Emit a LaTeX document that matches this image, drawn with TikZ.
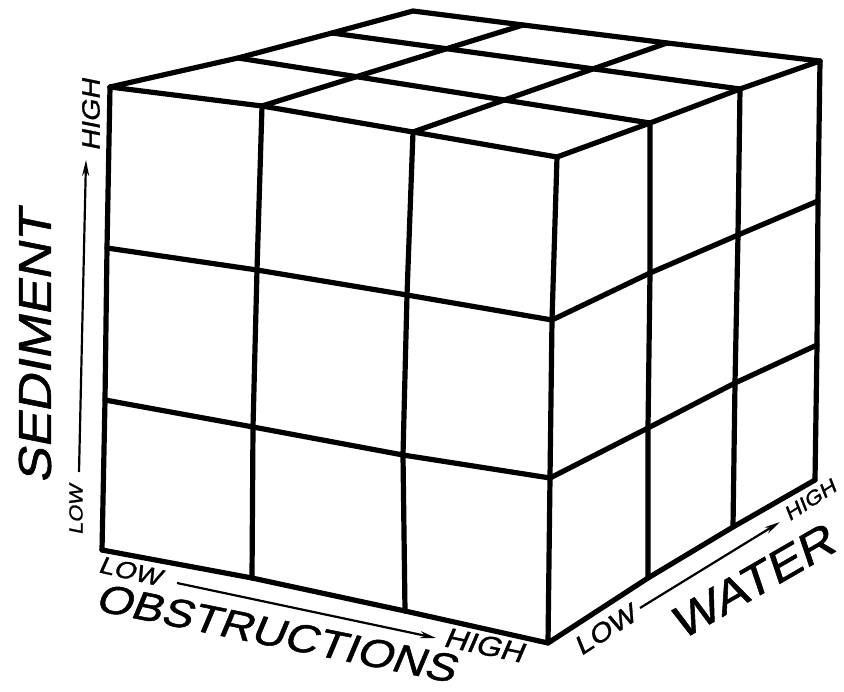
\documentclass[tikz,border=0pt]{standalone}
\usepackage{fontspec}
\usetikzlibrary{arrows.meta}
\newfontfamily\handfont[FakeSlant=0.2,FakeStretch=1.15,FakeBold=1.2]{Liberation Sans}
\begin{document}
\begin{tikzpicture}[x=1pt,y=-1pt,line width=5.2pt,line join=round,line cap=round,
  axis/.style={line width=2.2pt,line cap=butt,-{Stealth[length=16pt,width=7pt]}},
  every node/.style={inner sep=0pt,font=\handfont}]
\useasboundingbox (0,0) rectangle (844,692);
\coordinate (f00) at (110,87);
\coordinate (f01) at (262,106);
\coordinate (f02) at (413,132);
\coordinate (f03) at (557,157);
\coordinate (f10) at (107,248);
\coordinate (f11) at (257,270);
\coordinate (f12) at (407,295);
\coordinate (f13) at (552,320);
\coordinate (f20) at (105,400);
\coordinate (f21) at (253,427);
\coordinate (f22) at (403,455);
\coordinate (f23) at (550,478);
\coordinate (f30) at (102,550);
\coordinate (f31) at (252,578);
\coordinate (f32) at (405,611);
\coordinate (f33) at (548,643);
\coordinate (r01) at (650,123);
\coordinate (r02) at (740,89);
\coordinate (r03) at (820,61);
\coordinate (r11) at (650,273);
\coordinate (r12) at (738,235);
\coordinate (r13) at (818,201);
\coordinate (r21) at (648,428);
\coordinate (r22) at (735,383);
\coordinate (r23) at (817,345);
\coordinate (r31) at (648,578);
\coordinate (r32) at (733,527);
\coordinate (r33) at (815,480);
\coordinate (t1) at (238,58);
\coordinate (t2) at (332,33);
\coordinate (back) at (413,11);
\coordinate (b1) at (523,25);
\coordinate (b2) at (667,43);
\draw (f00) -- (f10) -- (f20) -- (f30);
\draw (f01) -- (f11) -- (f21) -- (f31);
\draw (f02) -- (f12) -- (f22) -- (f32);
\draw (f03) -- (f13) -- (f23) -- (f33);
\draw (f00) -- (f01) -- (f02) -- (f03) -- (r01) -- (r02) -- (r03);
\draw (f10) -- (f11) -- (f12) -- (f13) -- (r11) -- (r12) -- (r13);
\draw (f20) -- (f21) -- (f22) -- (f23) -- (r21) -- (r22) -- (r23);
\draw (f30) -- (f31) -- (f32) -- (f33) -- (r31) -- (r32) -- (r33);
\draw (r01) -- (r11) -- (r21) -- (r31);
\draw (r02) -- (r12) -- (r22) -- (r32);
\draw (r03) -- (r13) -- (r23) -- (r33);
\draw (f00) -- (t1) -- (t2) -- (back) -- (b1) -- (b2) -- (r03);
\draw (t1) -- (r01);
\draw (t2) -- (r02);
\draw (f01) -- (b1);
\draw (f02) -- (b2);
\coordinate (sedlo) at (79,472);
\coordinate (sedhi) at (86,160);
\coordinate (obslo) at (177,583);
\coordinate (obshi) at (436,638);
\coordinate (watlo) at (640,608);
\coordinate (wathi) at (780,522);
\draw[axis] (sedlo) -- (sedhi);
\draw[axis] (obslo) -- (obshi);
\draw[axis] (watlo) -- (wathi);
\node[rotate=90,font=\handfont\fontsize{46}{50}\selectfont] (sediment) at (35,347) {SEDIMENT};
\node[rotate=90,font=\handfont\fontsize{19}{20}\selectfont] (sedlow) at (76,510) {LOW};
\node[rotate=90,font=\handfont\fontsize{25}{26}\selectfont] (sedhigh) at (91,115) {HIGH};
\node[rotate=-11.5,font=\handfont\fontsize{40}{44}\selectfont] (obstructions) at (276,633) {OBSTRUCTIONS};
\node[rotate=-13,font=\handfont\fontsize{24}{26}\selectfont] (obslow) at (130,571) {LOW};
\node[rotate=-12,font=\handfont\fontsize{28}{30}\selectfont] (obshigh) at (484,645) {HIGH};
\node[rotate=30,font=\handfont\fontsize{45}{50}\selectfont] (water) at (752,582) {WATER};
\node[rotate=33,font=\handfont\fontsize{26}{28}\selectfont] (watlow) at (605,630) {LOW};
\node[rotate=33,font=\handfont\fontsize{20}{22}\selectfont] (wathigh) at (810,500) {HIGH};
\end{tikzpicture}
\end{document}
